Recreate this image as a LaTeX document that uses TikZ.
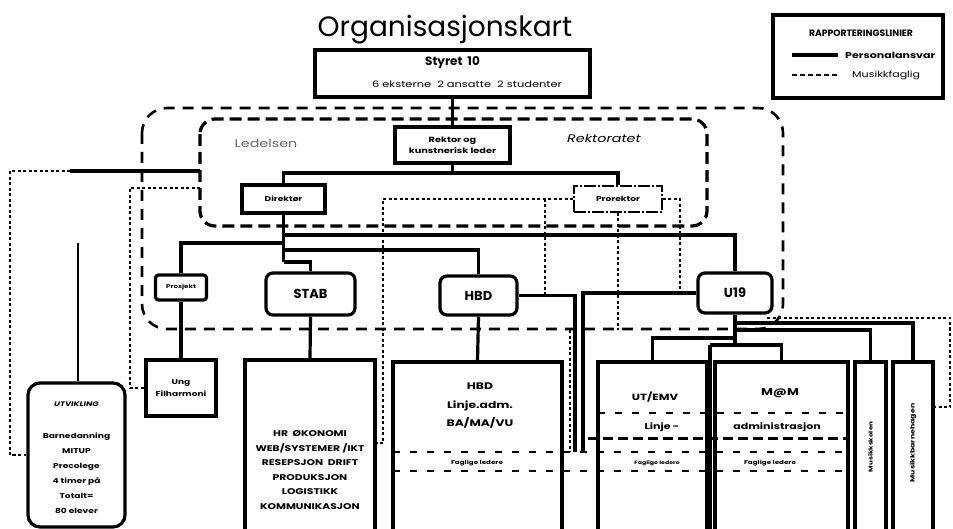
\documentclass[tikz,border=0pt]{standalone}
\usepackage{fontspec}
\setmainfont{Poppins}
\newfontfamily\wide{Poppins}[FakeStretch=1.3]
\usetikzlibrary{calc}
\begin{document}
\begin{tikzpicture}[x=1pt,y=-1pt,
  box/.style={draw,line width=3.2pt,inner sep=0pt,align=center},
  rbox/.style={box,rounded corners=7pt},
  conn/.style={line width=3.2pt},
  faglig/.style={line width=1.4pt,dash pattern=on 3pt off 2.5pt},
  outerdash/.style={line width=2.6pt,dash pattern=on 11pt off 8pt,rounded corners=25pt},
  innerdash/.style={line width=3.2pt,dash pattern=on 12pt off 6pt,rounded corners=15pt},
  thindash/.style={line width=1.1pt,dash pattern=on 7pt off 10pt},
  thickdash/.style={line width=3pt,dash pattern=on 10pt off 5pt},
  txt/.style={inner sep=0pt,align=center},
  wb/.style={txt,font=\wide\fontsize{#1}{#1}\selectfont\bfseries},
  big/.style={font=\fontsize{13}{15}\selectfont\bfseries},
]
\useasboundingbox (0,0) rectangle (953,529);

% title
\node[txt,font=\fontsize{28}{30}\selectfont] (title) at (445,30) {Organisasjonskart};

% outer and inner dashed groups
\draw[outerdash] (142,108) rectangle (783,329);
\draw[innerdash] (200,119) rectangle (707,226);
\node[txt,font=\wide\fontsize{11}{12}\selectfont,text=black!60] (ledelsen) at (266,143) {Ledelsen};
\node[txt,font=\wide\fontsize{11}{12}\selectfont\itshape] (rektoratet) at (604,138) {Rektoratet};

% legend
\node[box,minimum width=170pt,minimum height=83pt] (legend) at (858,56.5) {};
\node[txt,font=\fontsize{9.2}{10}\selectfont\bfseries] (legt) at (861,33) {RAPPORTERINGSLINIER};
\coordinate (lg1) at (792,55); \coordinate (lg2) at (838,55);
\coordinate (lg3) at (792,75); \coordinate (lg4) at (838,75);
\draw[conn] (lg1) -- (lg2);
\draw[line width=1.1pt,dash pattern=on 5pt off 3pt] (lg3) -- (lg4);
\node[wb=8.5,anchor=west] (legp) at (845,55) {Personalansvar};
\node[txt,font=\wide\fontsize{8.5}{9}\selectfont,anchor=west] (legm) at (852,75) {Musikkfaglig};

% top boxes
\node[box,minimum width=275pt,minimum height=47pt] (styret) at (452.5,73.5) {};
\node[txt,font=\fontsize{12}{13}\selectfont\bfseries] (styrett) at (452.5,63) {Styret\ \ 10};
\node[txt,font=\wide\fontsize{8.8}{9}\selectfont] (styrets) at (467,84) {6 eksterne\ \ 2 ansatte\ \ 2 studenter};
\node[box,minimum width=115pt,minimum height=36pt,font=\wide\fontsize{7.5}{11}\selectfont\bfseries] (rektor) at (452.5,145) {Rektor og\\kunstnerisk leder};
\node[box,minimum width=83pt,minimum height=28pt,font=\wide\fontsize{7}{8}\selectfont\bfseries] (direktor) at (283.5,199) {Direktør};
\node[draw,line width=1.3pt,dash pattern=on 12pt off 2pt on 2pt off 2pt,inner sep=0pt,minimum width=88pt,minimum height=26pt,font=\wide\fontsize{7}{8}\selectfont\bfseries] (prorektor) at (618,199) {Prorektor};

% second level
\node[rbox,rounded corners=3pt,minimum width=51pt,minimum height=25pt,font=\wide\fontsize{5.5}{7}\selectfont\bfseries] (prosjekt) at (181,287.5) {Prosjekt};
\node[rbox,minimum width=89pt,minimum height=42pt,big] (stab) at (310.5,294) {STAB};
\node[rbox,minimum width=77pt,minimum height=39pt,big] (hbd) at (478.5,295.5) {HBD};
\node[rbox,minimum width=74pt,minimum height=40pt,big] (u19) at (735,293) {U19};

% third level boxes
\node[box,minimum width=70pt,minimum height=56pt,font=\wide\fontsize{7}{12}\selectfont\bfseries] (ung) at (181,388) {Ung\\Filharmoni};
\node[box,rounded corners=12pt,minimum width=97pt,minimum height=144pt] (utv) at (76.5,455) {};
\node[box,minimum width=130pt,minimum height=175pt] (stabd) at (310,447.5) {};
\node[box,minimum width=169pt,minimum height=173pt] (hbdd) at (477.5,448.5) {};
\node[box,minimum width=109pt,minimum height=173pt] (utemv) at (652.5,448.5) {};
\node[box,minimum width=133pt,minimum height=173pt] (mm) at (781.5,448.5) {};
\node[box,minimum width=31pt,minimum height=173pt] (ms) at (870.5,448.5) {};
\node[box,minimum width=40pt,minimum height=173pt] (mbh) at (913,448.5) {};

% texts in third level
\node[txt,font=\wide\fontsize{6.5}{7}\selectfont\bfseries\itshape] (utvh) at (76.5,404) {UTVIKLING};
\node[txt,font=\wide\fontsize{7}{15}\selectfont\bfseries] (utvb) at (76.5,473) {Barnedanning\\MITUP\\Precolege\\4 timer på\\Totalt=\\80 elever};
\node[txt,font=\wide\fontsize{8.3}{14.5}\selectfont\bfseries] (stabt) at (310,470) {HR\ \ ØKONOMI\\WEB/SYSTEMER /IKT\\RESEPSJON\ \ DRIFT\\PRODUKSJON\\LOGISTIKK\\KOMMUNIKASJON};
\node[txt,font=\wide\fontsize{9.5}{18.5}\selectfont\bfseries] (hbdt) at (480,406) {HBD\\Linje.adm.\\BA/MA/VU};
\node[wb=9] (utemvt) at (655,397) {UT/EMV};
\node[wb=10] (mmt) at (780,393) {M@M};
\node[wb=8.5] (linje) at (662,427) {Linje -};
\node[wb=8.5] (adm) at (777,427) {administrasjon};
\node[wb=5.5] (fl1) at (477,463) {Faglige ledere};
\node[wb=4.8] (fl2) at (657,463) {Faglige ledere};
\node[wb=5.5] (fl3) at (770,463) {Faglige ledere};
\node[wb=5.5,rotate=90] (mst) at (870.5,447) {Musikkskolen};
\node[wb=6,rotate=90] (mbht) at (913,443) {Musikkbarnehagen};

% dashed section lines in detail boxes
\coordinate (s1a) at (598,413); \coordinate (s1b) at (848,413);
\coordinate (s2a) at (588,438); \coordinate (s2b) at (848,438);
\coordinate (s3a) at (393,452); \coordinate (s3b) at (848,452);
\coordinate (s4a) at (393,471); \coordinate (s4b) at (848,471);
\draw[thindash] (s1a) -- (s1b);
\draw[thickdash] (s2a) -- (s2b);
\draw[thindash] (s3a) -- (s3b);
\draw[thindash] (s4a) -- (s4b);

% solid connectors
\coordinate (jr) at (452.5,173);
\draw[conn] (styret.south) -- (rektor.north);
\draw[conn] (rektor.south) -- (jr);
\draw[conn] (direktor.north) |- (jr) -| (prorektor.north);
\coordinate (d1) at (283.5,235);
\coordinate (d2) at (283.5,243);
\coordinate (d3) at (283.5,250);
\coordinate (d4) at (283.5,262);
\draw[conn] (direktor.south) -- (d4);
\draw[conn] (d1) -| (u19.north);
\draw[conn] (d2) -| (prosjekt.north);
\draw[conn] (d3) -| (hbd.north);
\draw[conn] (d4) -| (stab.north);
\draw[conn] (prosjekt.south) -- (ung.north);
\draw[conn] (stab.south) -- (stabd.north);
\draw[conn] (hbd.south) -- (hbdd.north);
\coordinate (u1) at (735,323);
\coordinate (u2) at (735,330);
\coordinate (u3) at (735,338);
\coordinate (u4) at (735,345);
\coordinate (u5) at (710,345);
\coordinate (u6) at (710,531);
\draw[conn] (u19.south) -- (u4);
\draw[conn] (u1) -| (mbh.north);
\draw[conn] (u2) -| (ms.north);
\draw[conn] (u3) -| (utemv.north);
\draw[conn] (u5) -| (mm.north);
\draw[conn] (u5) -- (u6);
\coordinate (h1) at (575,452);
\coordinate (h2) at (583,452);
\draw[conn] (hbd.east) -| (h1);
\draw[conn] (u19.west) -| (h2);
\coordinate (lv1) at (200,171);
\coordinate (lv2) at (70,171);
\coordinate (lv3) at (10,171);
\coordinate (lv4) at (10,455);
\draw[conn] (lv1) -- (lv2);
\coordinate (ut0) at (78,243);
\draw[line width=2.6pt] (ut0) -- (utv.north -| ut0);

% musikkfaglig (dotted) connectors
\draw[faglig] (lv2) -- (lv3) -- (lv4) -- (utv.west);
\coordinate (lf1) at (200,188);
\coordinate (lf2) at (130,188);
\draw[faglig] (lf1) -- (lf2) |- (ung.west);
\coordinate (p1) at (383,199);
\coordinate (p2) at (383,443);
\draw[faglig] (prorektor.west) -- (p1) -- (p2) -- (stabd.east |- p2);
\coordinate (p3) at (545,199);
\coordinate (p4) at (545,295);
\draw[faglig] (p3) -- (p4);
\coordinate (p5) at (618,330);
\draw[faglig] (prorektor.south) -- (p5);
\coordinate (p6) at (680,199);
\coordinate (p7) at (680,293);
\draw[faglig] (prorektor.east) -- (p6) -- (p7);
\coordinate (p8) at (570,330);
\coordinate (p9) at (570,452);
\draw[faglig] (p8) -- (p9);
\coordinate (m1) at (767,318);
\coordinate (m2) at (950,318);
\coordinate (m3) at (950,407);
\draw[faglig] (m1) -- (m2) -- (m3) -- (mbh.east |- m3);
\end{tikzpicture}
\end{document}
